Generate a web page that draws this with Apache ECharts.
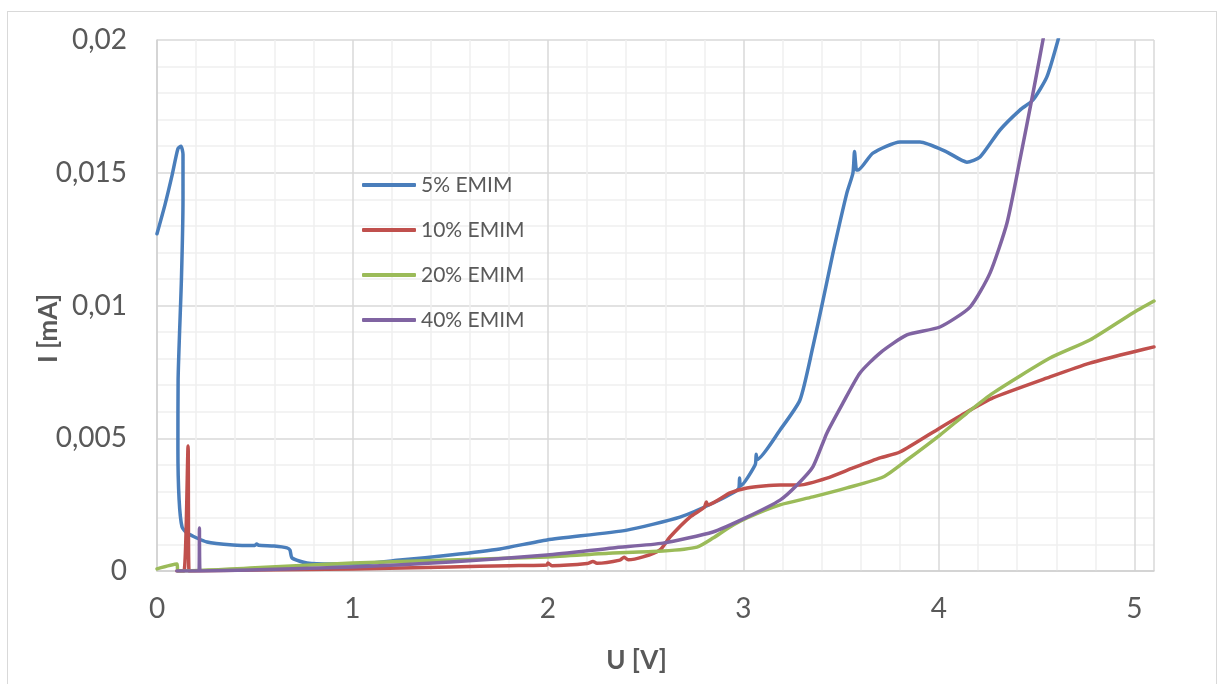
<!DOCTYPE html>
<html>
<head>
<meta charset="utf-8">
<script src="https://cdn.jsdelivr.net/npm/echarts@6/dist/echarts.min.js"></script>
<style>
  html, body { margin: 0; padding: 0; background: #fff; }
  #frame { position: absolute; left: 7px; top: 11px; width: 1208px; height: 700px; border: 1px solid #d9d9d9; }
  #chart { position: absolute; left: 0; top: 0; width: 1219px; height: 684px; }
</style>
</head>
<body>
<div id="frame"></div>
<div id="chart"></div>
<script>
// series names and colours (Excel 2010 palette)
const seriesNames = ["5% EMIM", "10% EMIM", "20% EMIM", "40% EMIM"];
const seriesColors = ["#4a7ebb", "#c0504d", "#9bbb59", "#8064a2"];

// [U (V), I (mA)]
const emim5 = [
  [0, 0.0127], [0.041, 0.0138], [0.077, 0.0149], [0.107, 0.0159], [0.123, 0.0160],
  [0.133, 0.0157], [0.133, 0.0140], [0.125, 0.0110], [0.108, 0.0072], [0.107, 0.0046],
  [0.113, 0.0027], [0.128, 0.00166], [0.153, 0.00143], [0.256, 0.00109], [0.389, 0.00098],
  [0.50, 0.00096], [0.51, 0.00102], [0.52, 0.00097], [0.60, 0.00094], [0.665, 0.00087],
  [0.68, 0.00079], [0.691, 0.00049], [0.767, 0.0003], [0.90, 0.00026], [1.0, 0.00026],
  [1.243, 0.00041], [1.5, 0.0006], [1.754, 0.00083], [1.995, 0.00117], [2.404, 0.00154],
  [2.675, 0.00203], [2.844, 0.00256], [2.975, 0.0031], [2.98, 0.0035], [2.985, 0.0032],
  [3.06, 0.0040], [3.065, 0.0044], [3.07, 0.0042], [3.187, 0.00531], [3.289, 0.00644],
  [3.355, 0.00844], [3.407, 0.0102], [3.458, 0.01198], [3.529, 0.01424], [3.56, 0.01499],
  [3.568, 0.0158], [3.578, 0.0151], [3.586, 0.0151], [3.662, 0.01574], [3.801, 0.01616],
  [3.903, 0.01616], [4.041, 0.01578], [4.143, 0.0154], [4.21, 0.01559], [4.312, 0.01661],
  [4.414, 0.01736], [4.481, 0.01774], [4.552, 0.01861], [4.609, 0.0200], [4.65, 0.0212]
];
const emim10 = [
  [0.102, 0], [0.138, 0], [0.159, 0.00471], [0.164, 0], [0.476, 0.00004], [1.0, 0.00008],
  [1.5, 0.00015], [1.8, 0.0002], [1.995, 0.00023], [2.0, 0.0003], [2.02, 0.0002],
  [2.2, 0.00028], [2.23, 0.00036], [2.25, 0.00029], [2.368, 0.00041], [2.39, 0.00052],
  [2.41, 0.00042], [2.486, 0.00053], [2.573, 0.00079], [2.624, 0.00128], [2.726, 0.00203],
  [2.80, 0.0024], [2.81, 0.0026], [2.818, 0.00249], [2.931, 0.00294], [3.018, 0.00313],
  [3.187, 0.00324], [3.289, 0.00324], [3.427, 0.0035], [3.56, 0.00388], [3.698, 0.00426],
  [3.8, 0.00448], [4.005, 0.00539], [4.143, 0.00599], [4.276, 0.00652], [4.568, 0.00731],
  [4.772, 0.00783], [4.992, 0.00825], [5.1, 0.00844]
];
const emim20 = [
  [0, 0.00008], [0.102, 0.00026], [0.107, 0], [0.476, 0.00011], [1.0, 0.0003],
  [1.5, 0.00041], [1.995, 0.00053], [2.332, 0.00068], [2.588, 0.00075], [2.762, 0.0009],
  [2.844, 0.00124], [2.931, 0.00166], [3.018, 0.002], [3.187, 0.00249], [3.355, 0.00279],
  [3.529, 0.00313], [3.714, 0.00354], [3.836, 0.00418], [4.005, 0.00512], [4.143, 0.00595],
  [4.276, 0.0067], [4.568, 0.00802], [4.772, 0.0087], [4.992, 0.00972], [5.1, 0.01017]
];
const emim40 = [
  [0.102, 0], [0.215, 0], [0.217, 0.00162], [0.22, 0], [0.476, 0.00004], [1.0, 0.00015],
  [1.5, 0.00034], [1.995, 0.0006], [2.332, 0.00087], [2.588, 0.00105], [2.844, 0.00147],
  [3.018, 0.00203], [3.187, 0.00267], [3.274, 0.00324], [3.355, 0.00392], [3.427, 0.0052],
  [3.509, 0.00633], [3.596, 0.00746], [3.698, 0.00821], [3.836, 0.00889], [4.005, 0.00919],
  [4.159, 0.00994], [4.261, 0.01122], [4.348, 0.01311], [4.414, 0.01548], [4.481, 0.018],
  [4.532, 0.02], [4.57, 0.0215]
];
const allSeries = [emim5, emim10, emim20, emim40];

const textColor = "#595959";
const fontFamily = "Lato, 'Open Sans', sans-serif";

const chart = echarts.init(document.getElementById("chart"), null, { renderer: "canvas" });

chart.setOption({
  animation: false,
  backgroundColor: "transparent",
  grid: { left: 157, top: 40, right: 65, bottom: 113, containLabel: false, outerBoundsMode: "none" },
  legend: {
    orient: "vertical",
    left: 357,
    top: 168,
    itemGap: 21,
    itemWidth: 54,
    itemHeight: 4,
    icon: "roundRect",
    data: seriesNames,
    textStyle: { color: textColor, fontSize: 21, fontFamily: fontFamily, lineHeight: 24 }
  },
  xAxis: {
    type: "value",
    min: 0,
    max: 5.1,
    interval: 1,
    name: "U [V]",
    nameLocation: "middle",
    nameGap: 77,
    nameMoveOverlap: false,
    nameTextStyle: { color: textColor, fontSize: 26, fontWeight: "bold", fontFamily: fontFamily, padding: [0, 38, 0, 0] },
    axisLine: { show: true, lineStyle: { color: "#d0d0d0", width: 1.5 } },
    axisTick: { show: false },
    axisLabel: {
      color: textColor, fontSize: 28, fontFamily: fontFamily, margin: 24,
      showMaxLabel: false,
      formatter: (v) => (Number.isInteger(v) ? String(v) : "")
    },
    splitLine: { show: true, lineStyle: { color: "#d9d9d9", width: 1.5 } },
    minorTick: { show: false, splitNumber: 5 },
    minorSplitLine: { show: true, lineStyle: { color: "#f0f0f0", width: 1.5 } }
  },
  yAxis: {
    type: "value",
    min: 0,
    max: 0.02,
    interval: 0.005,
    name: "I [mA]",
    nameLocation: "middle",
    nameGap: 95,
    nameMoveOverlap: false,
    nameTextStyle: { color: textColor, fontSize: 26, fontWeight: "bold", fontFamily: fontFamily, padding: [0, 46, 0, 0] },
    axisLine: { show: true, lineStyle: { color: "#d0d0d0", width: 1.5 } },
    axisTick: { show: false },
    axisLabel: {
      color: textColor, fontSize: 28, fontFamily: fontFamily, margin: 30,
      formatter: (v) => String(+v.toFixed(3)).replace(".", ",")
    },
    splitLine: { show: true, lineStyle: { color: "#d9d9d9", width: 1.5 } },
    minorTick: { show: false, splitNumber: 5 },
    minorSplitLine: { show: true, lineStyle: { color: "#f0f0f0", width: 1.5 } }
  },
  series: allSeries.map((d, i) => ({
    name: seriesNames[i],
    type: "line",
    data: d,
    showSymbol: false,
    symbol: "none",
    smooth: 0.2,
    clip: true,
    color: seriesColors[i],
    lineStyle: { color: seriesColors[i], width: 3.5, cap: "round", join: "round" }
  }))
});
</script>
</body>
</html>
